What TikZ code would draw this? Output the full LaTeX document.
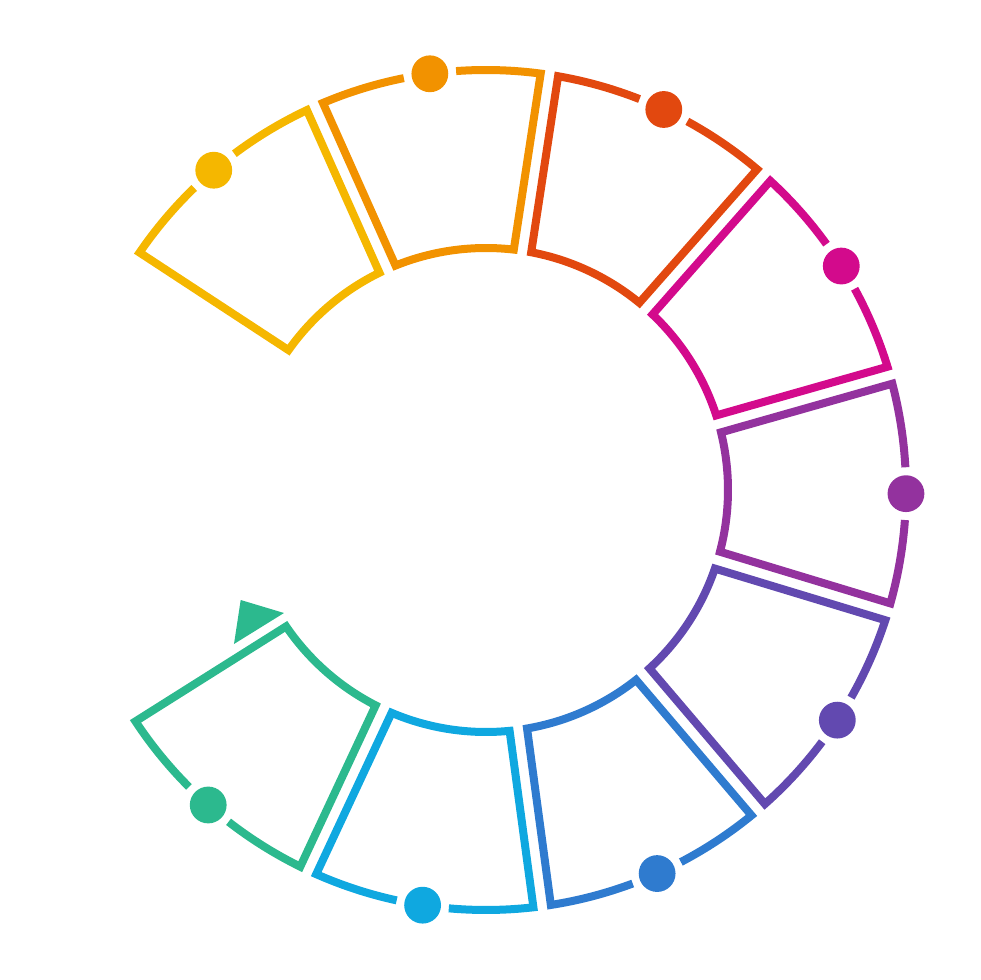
\documentclass[tikz,border=0pt]{standalone}
\begin{document}
\begin{tikzpicture}[x=0.25mm,y=0.25mm,
  seg/.style={line width=2mm, line join=miter, miter limit=10, line cap=butt}]
\definecolor{cyel}{HTML}{F5B700}
\definecolor{corg}{HTML}{F29200}
\definecolor{cred}{HTML}{E2480F}
\definecolor{cmag}{HTML}{D30A8C}
\definecolor{cpur}{HTML}{93329E}
\definecolor{cind}{HTML}{6249B0}
\definecolor{cblu}{HTML}{2F7BCF}
\definecolor{clbl}{HTML}{0FA8E0}
\definecolor{cgrn}{HTML}{2CB98E}
\useasboundingbox (-486,-490) rectangle (494,490);
\def\Ro{420}
\def\Ri{242}
\def\hg{8.8}
\def\rot{-0.5}
\def\dg{3.6}
\foreach \i/\c in {4/cyel,3/corg,2/cred,1/cmag,0/cpur,-1/cind,-2/cblu,-3/clbl,-4/cgrn}{
  \pgfmathsetmacro\t{\i*360/11+\rot}
  \pgfmathsetmacro\ao{180/11-asin(\hg/\Ro)}
  \pgfmathsetmacro\ai{180/11-asin(\hg/\Ri)}
  \pgfmathsetmacro\sa{\t+\dg}
  \pgfmathsetmacro\sb{\t+\ao}
  \pgfmathsetmacro\sc{\t+\ai}
  \pgfmathsetmacro\sd{\t-\ai}
  \pgfmathsetmacro\se{\t-\ao}
  \pgfmathsetmacro\sf{\t-\dg}
  \draw[seg,\c] (\sa:\Ro) arc[start angle=\sa, end angle=\sb, radius=\Ro]
     -- (\sc:\Ri) arc[start angle=\sc, end angle=\sd, radius=\Ri]
     -- (\se:\Ro) arc[start angle=\se, end angle=\sf, radius=\Ro];
  \fill[\c] (\t:\Ro) circle[radius=18.4];
}
\coordinate (ta) at (-245.3,-110);
\coordinate (tb) at (-202,-123);
\coordinate (tc) at (-252,-154);
\fill[cgrn] (ta) -- (tb) -- (tc) -- cycle;
\end{tikzpicture}
\end{document}
